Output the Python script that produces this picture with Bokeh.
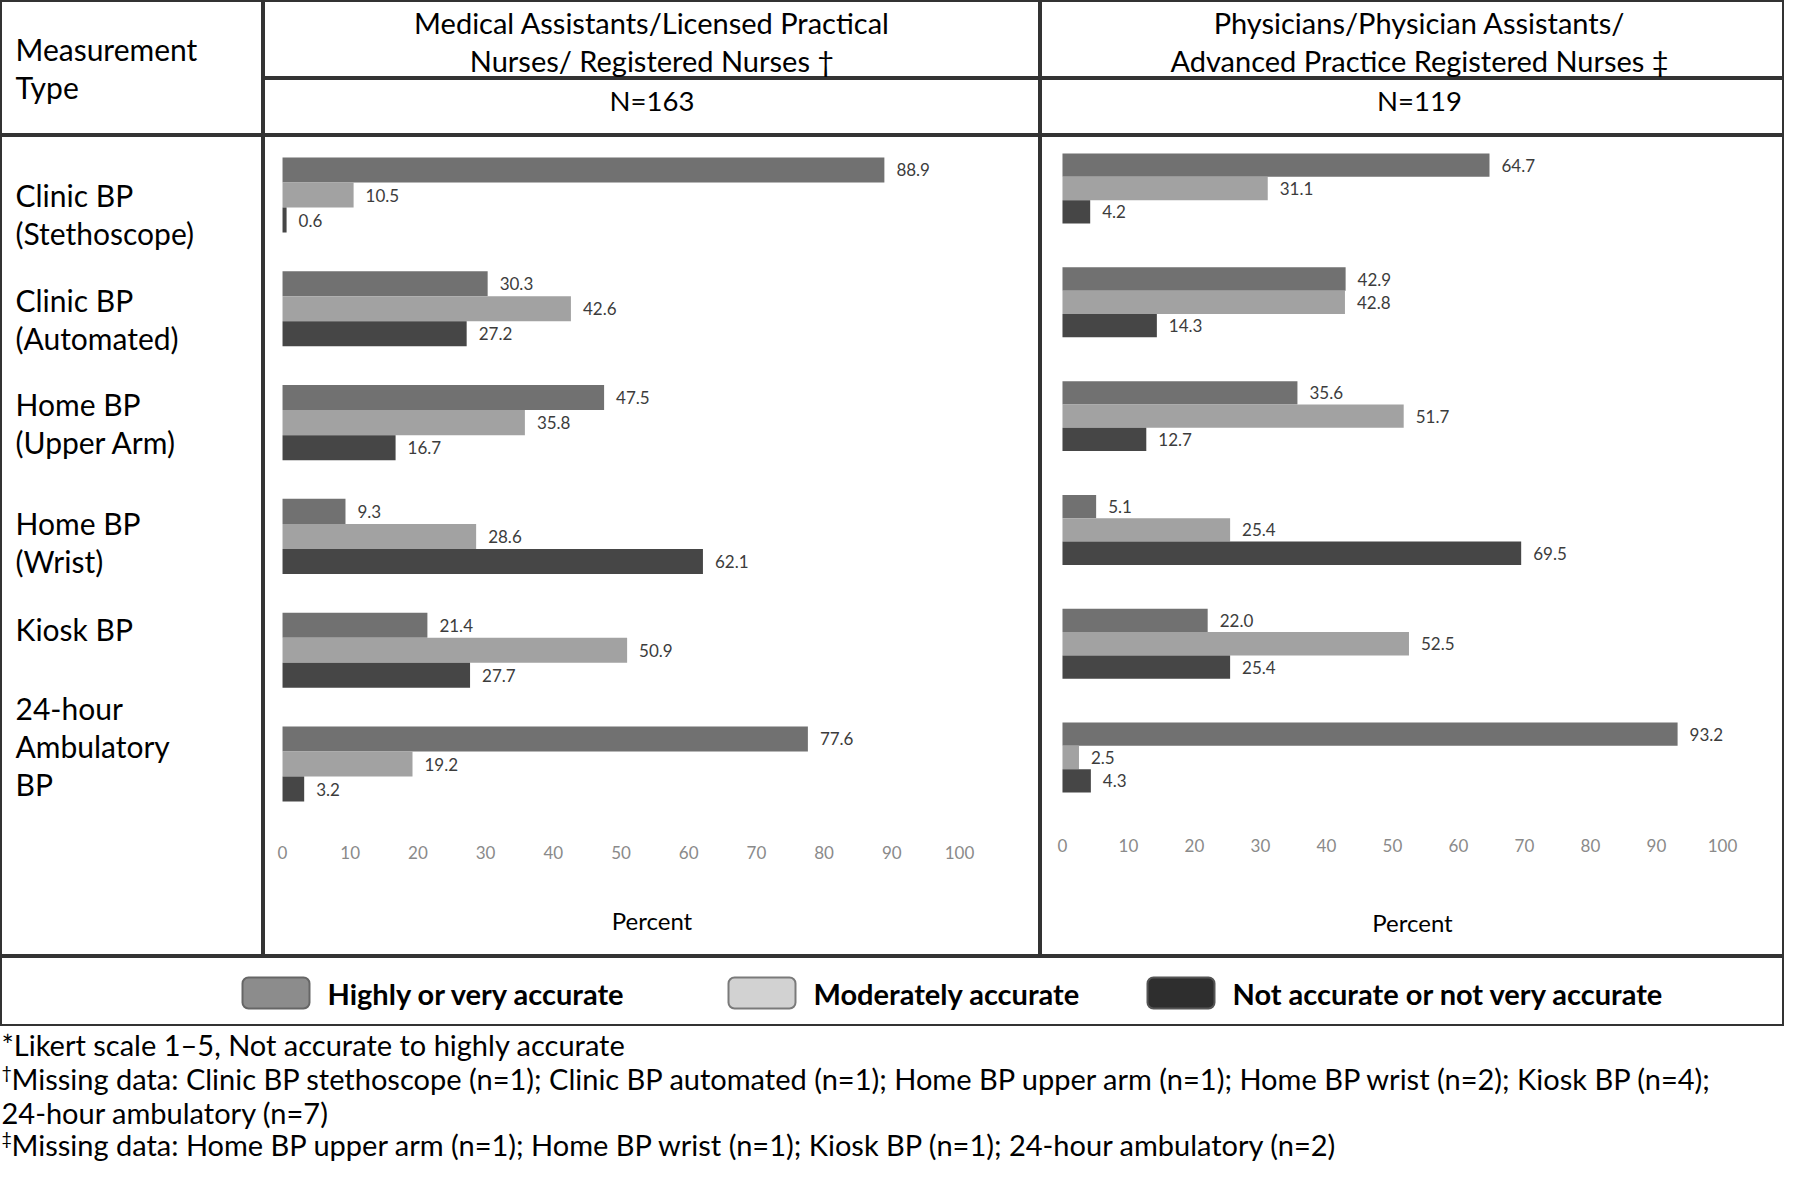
from bokeh.plotting import figure
from bokeh.layouts import row, column
from bokeh.models import Range1d, LinearAxis, FixedTicker, ColumnDataSource
from bokeh.transform import dodge
from bokeh.core.properties import value
from bokeh.embed import file_html
from bokeh.resources import INLINE

# ---------------- data ----------------
categories = ["Clinic BP\n(Stethoscope)", "Clinic BP\n(Automated)", "Home BP\n(Upper Arm)",
              "Home BP\n(Wrist)", "Kiosk BP", "24-hour\nAmbulatory\nBP"]
series = ["Highly or very accurate", "Moderately accurate", "Not accurate or not very accurate"]

nurses_highly = [88.9, 30.3, 47.5, 9.3, 21.4, 77.6]
nurses_moderate = [10.5, 42.6, 35.8, 28.6, 50.9, 19.2]
nurses_not = [0.6, 27.2, 16.7, 62.1, 27.7, 3.2]

phys_highly = [64.7, 42.9, 35.6, 5.1, 22.0, 93.2]
phys_moderate = [31.1, 42.8, 51.7, 25.4, 52.5, 2.5]
phys_not = [4.2, 14.3, 12.7, 69.5, 25.4, 4.3]

x_ticks = [0, 10, 20, 30, 40, 50, 60, 70, 80, 90, 100]

corner_header = "Measurement\nType"
left_header = "Medical Assistants/Licensed Practical\nNurses/ Registered Nurses \u2020"
right_header = "Physicians/Physician Assistants/\nAdvanced Practice Registered Nurses \u2021"
left_n = "N=163"
right_n = "N=119"
axis_title = "Percent"

footnote_marks = ["", "\u2020", "", "\u2021"]
footnotes = [
    "*Likert scale 1\u20135, Not accurate to highly accurate",
    "Missing data: Clinic BP stethoscope (n=1); Clinic BP automated (n=1); Home BP upper arm (n=1); Home BP wrist (n=2); Kiosk BP (n=4);",
    "24-hour ambulatory (n=7)",
    "Missing data: Home BP upper arm (n=1); Home BP wrist (n=1); Kiosk BP (n=1); 24-hour ambulatory (n=2)",
]

# ---------------- style ----------------
FONT = "Lato"
BORDER = "#333333"
bar_colors = ["#717171", "#a2a2a2", "#464646"]
swatch_fill = ["#8c8c8c", "#d2d2d2", "#2e2e2e"]
swatch_line = ["#666666", "#7a7a7a", "#555555"]

W0, W1, W2 = 263, 777, 744
W = W0 + W1 + W2
H_HEAD1, H_HEAD2 = 78, 57
H_BODY = 821
H_LEG = 70
H_FOOT = 138

PX_PER_ROW = 113.8
SPAN = H_BODY / PX_PER_ROW  # category units shown over the body height


def cell(w, h, xr, yr, outline=True):
    p = figure(width=w, height=h, x_range=xr, y_range=yr, output_backend="svg",
               toolbar_location=None, tools="", x_axis_location=None, y_axis_location=None,
               min_border=0)
    p.grid.visible = False
    p.outline_line_color = BORDER if outline else None
    p.outline_line_width = 3
    p.background_fill_color = "white"
    p.border_fill_color = "white"
    return p


def txt(p, x, y, t, size, align="left", baseline="middle", style="normal", color="black", lh=1.06):
    p.text(x=x, y=y, text=t, text_font=value(FONT), text_font_size=value(size),
           text_align=align, text_baseline=baseline, text_font_style=style,
           text_color=color, text_line_height=lh)


# ---------------- header row ----------------
p_corner = cell(W0, H_HEAD1 + H_HEAD2, Range1d(0, W0), Range1d(H_HEAD1 + H_HEAD2, 0))
txt(p_corner, [15], [(H_HEAD1 + H_HEAD2) / 2], [corner_header], "30px")

p_h1 = cell(W1, H_HEAD1, Range1d(0, W1), Range1d(H_HEAD1, 0))
txt(p_h1, [W1 / 2], [41], [left_header], "29px", align="center", lh=1.096)
p_n1 = cell(W1, H_HEAD2, Range1d(0, W1), Range1d(H_HEAD2, 0))
txt(p_n1, [W1 / 2], [22], [left_n], "27.5px", align="center")

p_h2 = cell(W2, H_HEAD1, Range1d(0, W2), Range1d(H_HEAD1, 0))
txt(p_h2, [W2 / 2 + 7], [41], [right_header], "29px", align="center", lh=1.096)
p_n2 = cell(W2, H_HEAD2, Range1d(0, W2), Range1d(H_HEAD2, 0))
txt(p_n2, [W2 / 2 + 7], [22], [right_n], "27.5px", align="center")

header_row = row(p_corner, column(p_h1, p_n1), column(p_h2, p_n2))

# ---------------- body row ----------------
idx = list(range(len(categories)))


def bar_panel(w, vals, y_top, x_start, px_per_unit, bar_h, axis_loc, title_standoff):
    yr = Range1d(start=y_top + SPAN, end=y_top)
    p = cell(w, H_BODY, Range1d(x_start, x_start + w / px_per_unit), yr)
    for j, (v, c) in enumerate(zip(vals, bar_colors)):
        src = ColumnDataSource(dict(idx=idx, val=v, lab=[f"{a:.1f}" for a in v]))
        off = (j - 1) * bar_h
        p.hbar(y=dodge("idx", off, range=yr), left=0, right="val", height=bar_h,
               fill_color=c, line_color=None, source=src)
        p.text(x="val", y=dodge("idx", off, range=yr), text="lab", source=src,
               x_offset=12, text_baseline="middle", text_align="left",
               text_font=value(FONT), text_font_size=value("17px"), text_color="#3c3c3c")
    ax = LinearAxis(fixed_location=axis_loc, ticker=FixedTicker(ticks=x_ticks),
                    axis_label=axis_title)
    ax.axis_line_color = None
    ax.major_tick_line_color = None
    ax.minor_tick_line_color = None
    ax.major_tick_out = 0
    ax.major_tick_in = 0
    ax.major_label_standoff = 0
    ax.major_label_text_font = FONT
    ax.major_label_text_font_size = "17px"
    ax.major_label_text_color = "#8a8a8a"
    ax.axis_label_text_font = FONT
    ax.axis_label_text_font_size = "24px"
    ax.axis_label_text_font_style = "normal"
    ax.axis_label_text_color = "black"
    ax.axis_label_standoff = title_standoff
    p.add_layout(ax, "below")
    return p, yr


p_left, yr_left = bar_panel(W1, [nurses_highly, nurses_moderate, nurses_not],
                            -0.523, -2.81, 6.77, 0.22, 5.72, 44)
p_right, yr_right = bar_panel(W2, [phys_highly, phys_moderate, phys_not],
                              -0.466, -3.33, 6.6, 0.205, 5.72, 52)

label_nudge = [0.17, 0.09, 0.0, 0.05, -0.19, -0.16]
p_labels = cell(W0, H_BODY, Range1d(0, W0), Range1d(start=-0.523 + SPAN, end=-0.523))
txt(p_labels, [15] * len(categories), [i + n for i, n in zip(idx, label_nudge)],
    categories, "30px")

body_row = row(p_labels, p_left, p_right)

# ---------------- legend row ----------------
p_leg = cell(W, H_LEG, Range1d(0, W), Range1d(H_LEG, 0))
sw_left = [242, 728, 1147]
sw_w = 67
for k in range(len(series)):
    r = p_leg.quad(left=[sw_left[k]], right=[sw_left[k] + sw_w], top=[21], bottom=[52],
                   fill_color=swatch_fill[k], line_color=swatch_line[k], line_width=2)
    try:
        r.glyph.border_radius = 6
    except Exception:
        pass
    txt(p_leg, [sw_left[k] + sw_w + 18], [37], [series[k]], "29px", style="bold")

# ---------------- footnotes ----------------
p_foot = cell(W, H_FOOT, Range1d(0, W), Range1d(H_FOOT, 0), outline=False)
foot_y = [18, 52, 86, 118]
for k, (m, t) in enumerate(zip(footnote_marks, footnotes)):
    if m:
        txt(p_foot, [1], [foot_y[k] - 7], [m], "18px")
        txt(p_foot, [11], [foot_y[k]], [t], "29px")
    else:
        txt(p_foot, [1], [foot_y[k]], [t], "29px")

layout = column(header_row, body_row, p_leg, p_foot)

open("out.html", "w").write(file_html(layout, INLINE))
